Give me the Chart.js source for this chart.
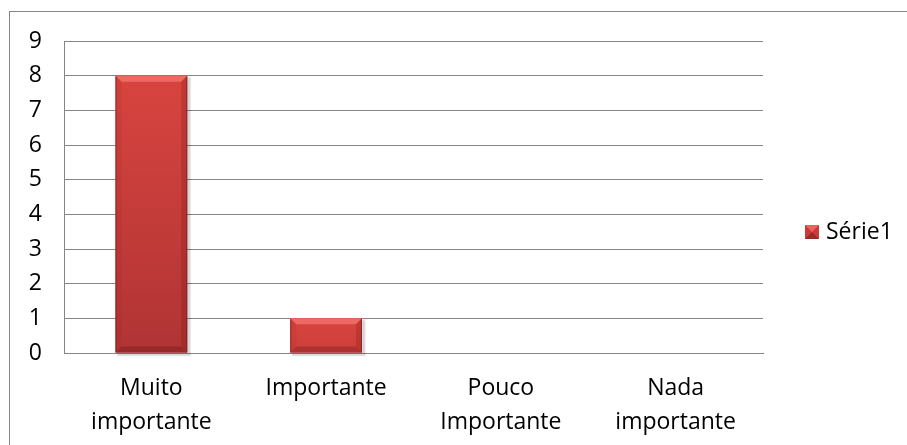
<!DOCTYPE html>
<html>
<head>
<meta charset="utf-8">
<script src="https://cdn.jsdelivr.net/npm/chart.js@4"></script>
<style>
  html, body { margin: 0; padding: 0; background: #fff; }
  #wrap { position: relative; width: 907px; height: 445px; }
  canvas { display: block; }
</style>
</head>
<body>
<div id="wrap"><canvas id="c" width="907" height="445"></canvas></div>
<script>
// Categories and values of the chart
const categories = [['Muito', 'importante'], 'Importante', ['Pouco', 'Importante'], ['Nada', 'importante']];
const seriesName = 'Série1';
const serie1 = [8, 1, 0, 0];
const yMin = 0;
const yMax = 9;
const yStep = 1;

const FONT = { family: '"Open Sans", Lato, sans-serif', size: 23 };
const GRID = '#868686';

// Frame around the whole chart
const framePlugin = {
  id: 'frame',
  beforeDraw(chart) {
    const ctx = chart.ctx;
    ctx.save();
    ctx.fillStyle = '#fff';
    ctx.fillRect(0, 0, chart.width, chart.height);
    ctx.strokeStyle = GRID;
    ctx.lineWidth = 1;
    ctx.strokeRect(9.5, 11.5, chart.width + 20, chart.height + 20);
    ctx.restore();
  }
};

// Bevelled look on top of each bar
const bevelPlugin = {
  id: 'bevel',
  beforeDatasetsDraw(chart) {
    const ctx = chart.ctx;
    const meta = chart.getDatasetMeta(0);
    ctx.save();
    meta.data.forEach(el => {
      const p = el.getProps(['x', 'y', 'base', 'width'], true);
      const h = p.base - p.y;
      if (h <= 0) return;
      ctx.fillStyle = 'rgba(0,0,0,0.10)';
      ctx.fillRect(p.x - p.width / 2 + 2, p.y + 2, p.width + 1, h + 1);
      ctx.fillStyle = 'rgba(0,0,0,0.06)';
      ctx.fillRect(p.x - p.width / 2 + 1, p.y + 1, p.width + 3, h + 3);
    });
    ctx.restore();
  },
  afterDatasetsDraw(chart) {
    const ctx = chart.ctx;
    const meta = chart.getDatasetMeta(0);
    ctx.save();
    meta.data.forEach(el => {
      const p = el.getProps(['x', 'y', 'base', 'width'], true);
      const l = p.x - p.width / 2, r = p.x + p.width / 2;
      const t = p.y, b = p.base;
      const h = b - t;
      if (h <= 0) return;
      const bv = Math.min(6, h / 3);
      const g = ctx.createLinearGradient(0, t, 0, b);
      g.addColorStop(0, '#D8443F');
      g.addColorStop(1, h > 100 ? '#B03434' : '#CD3F3B');
      ctx.fillStyle = g;
      ctx.fillRect(l, t, r - l, h);
      const poly = (pts, c) => {
        ctx.beginPath();
        ctx.moveTo(pts[0][0], pts[0][1]);
        for (let i = 1; i < pts.length; i++) ctx.lineTo(pts[i][0], pts[i][1]);
        ctx.closePath();
        ctx.fillStyle = c;
        ctx.fill();
      };
      poly([[l, t], [r, t], [r - bv, t + bv], [l + bv, t + bv]], 'rgba(240,110,104,0.9)');
      poly([[l, t], [l + bv, t + bv], [l + bv, b - bv], [l, b]], 'rgba(150,30,30,0.12)');
      poly([[r, t], [r, b], [r - bv, b - bv], [r - bv, t + bv]], 'rgba(110,20,20,0.22)');
      poly([[l, b], [r, b], [r - bv, b - bv], [l + bv, b - bv]], 'rgba(90,15,15,0.28)');
      ctx.fillStyle = 'rgba(100,20,20,0.45)';
      ctx.fillRect(l, t + 1, 1, h - 1);
      ctx.fillRect(r - 1, t + 1, 1, h - 1);
    });
    ctx.restore();
  }
};

// Legend drawn at the right, vertically centred
const legendPlugin = {
  id: 'sideLegend',
  afterDraw(chart) {
    const ctx = chart.ctx;
    const ds = chart.data.datasets[0];
    const x = 805, cy = 232, s = 14;
    ctx.save();
    ctx.fillStyle = '#C73C3A';
    ctx.fillRect(x, cy - s / 2, s, s);
    ctx.fillStyle = '#E8645D';
    ctx.beginPath();
    ctx.moveTo(x, cy - s / 2); ctx.lineTo(x + s, cy - s / 2); ctx.lineTo(x + s / 2, cy);
    ctx.closePath(); ctx.fill();
    ctx.fillStyle = 'rgba(100,20,20,0.45)';
    ctx.beginPath();
    ctx.moveTo(x, cy + s / 2); ctx.lineTo(x + s, cy + s / 2); ctx.lineTo(x + s / 2, cy);
    ctx.closePath(); ctx.fill();
    ctx.fillStyle = '#000';
    ctx.font = `${FONT.size}px ${FONT.family}`;
    ctx.textBaseline = 'middle';
    ctx.textAlign = 'left';
    ctx.fillText(ds.label, x + s + 7, cy);
    ctx.restore();
  }
};

new Chart(document.getElementById('c'), {
  type: 'bar',
  data: {
    labels: categories,
    datasets: [{
      label: seriesName,
      data: serie1,
      backgroundColor: '#C73C3A',
      borderWidth: 0,
      barPercentage: 0.41,
      categoryPercentage: 1
    }]
  },
  options: {
    responsive: false,
    animation: false,
    events: [],
    layout: { padding: { top: 41, right: 144, left: 0, bottom: 0 } },
    plugins: { legend: { display: false }, tooltip: { enabled: false } },
    scales: {
      x: {
        grid: { display: false, drawTicks: false },
        border: { display: true, color: GRID, width: 1 },
        ticks: { color: '#000', font: { ...FONT, lineHeight: 1.45 }, padding: 19, maxRotation: 0, autoSkip: false },
        afterFit(s) { s.height = 92; }
      },
      y: {
        min: yMin,
        max: yMax,
        grid: { color: GRID, lineWidth: 1, drawTicks: false },
        border: { display: true, color: GRID, width: 1 },
        ticks: { stepSize: yStep, color: '#000', font: FONT, padding: 22 },
        afterFit(s) { s.width = 64; }
      }
    }
  },
  plugins: [framePlugin, bevelPlugin, legendPlugin]
});
</script>
</body>
</html>
